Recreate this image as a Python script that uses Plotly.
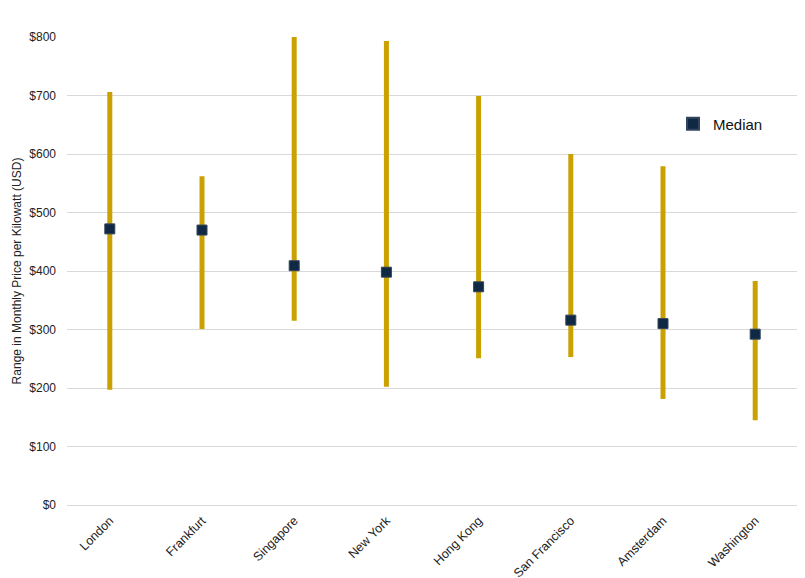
import plotly.graph_objects as go

cities = ["London", "Frankfurt", "Singapore", "New York", "Hong Kong",
          "San Francisco", "Amsterdam", "Washington"]
low = [197, 301, 315, 202, 251, 253, 181, 145]
high = [706, 562, 800, 793, 699, 600, 579, 383]
median = [472, 470, 409, 398, 373, 316, 310, 292]
y_ticks = [0, 100, 200, 300, 400, 500, 600, 700, 800]
y_tick_labels = ["$" + str(v) for v in y_ticks]

# build range segments from the data
seg_x, seg_y = [], []
for c, lo, hi in zip(cities, low, high):
    seg_x += [c, c, None]
    seg_y += [lo, hi, None]

fig = go.Figure()
fig.add_trace(go.Scatter(
    x=seg_x, y=seg_y, mode="lines",
    line=dict(color="#C9A100", width=5),
    showlegend=False, hoverinfo="skip"))
fig.add_trace(go.Scatter(
    x=cities, y=median, mode="markers", name="Median",
    marker=dict(symbol="square", size=10, color="#0F2843",
                line=dict(color="#33455c", width=1))))

# page body has an 8px default margin, so the figure is sized to fit the window
fig.update_layout(
    width=797, height=570,
    margin=dict(l=59, r=7, t=29, b=73),
    paper_bgcolor="white", plot_bgcolor="white",
    font=dict(family="Liberation Sans, Arial, sans-serif", size=12, color="#222222"),
    legend=dict(x=0.829, y=0.814, xanchor="left", yanchor="middle",
                font=dict(size=15, color="#111111"), bgcolor="rgba(0,0,0,0)",
                itemwidth=30, itemsizing="constant"),
    xaxis=dict(type="category", tickangle=-45, showgrid=False, showline=False,
               ticks="", automargin=False, ticklabelstandoff=5,
               tickfont=dict(size=12.5, color="#222222")),
    yaxis=dict(range=[0, 800], tickvals=y_ticks, ticktext=y_tick_labels,
               showgrid=True, gridcolor="#D9D9D9", gridwidth=1,
               zeroline=True, zerolinecolor="#D9D9D9", zerolinewidth=1,
               ticks="", ticklabelstandoff=10, automargin=False,
               tickfont=dict(size=12, color="#222222"),
               title=dict(text="Range in Monthly Price per Kilowatt (USD)",
                          font=dict(size=12, color="#222222"), standoff=5)),
)
fig.write_html("out.html")
